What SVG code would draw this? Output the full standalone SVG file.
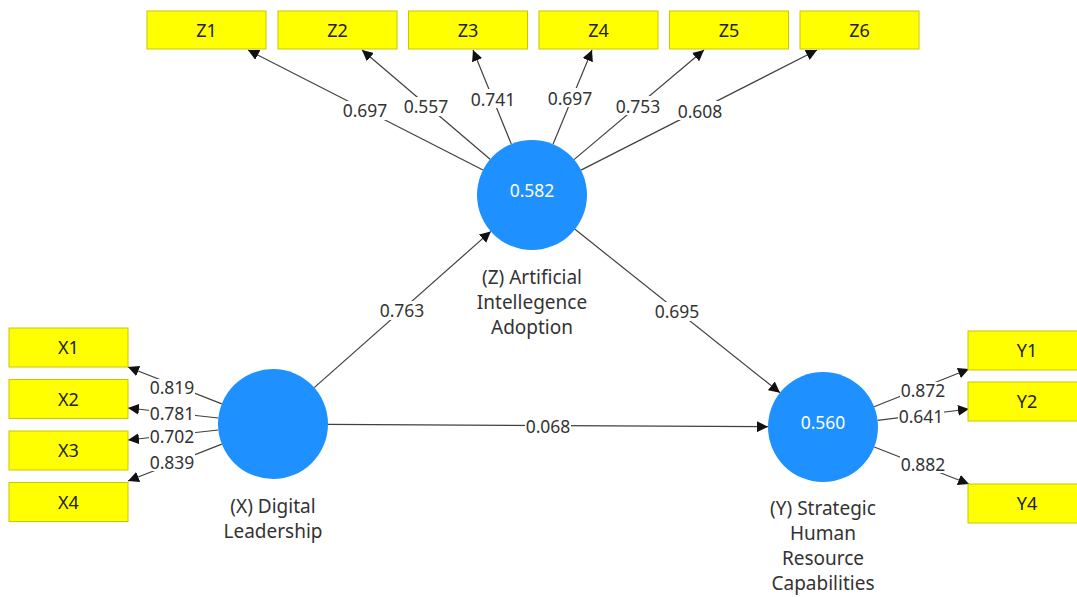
<svg xmlns="http://www.w3.org/2000/svg" width="1077" height="597" viewBox="0 0 1077 597">
  <style>
    .ind rect { fill: #FFFF00; stroke: #C8C800; stroke-width: 1; }
    .ind text { font-family: "Noto Sans", "Open Sans", sans-serif; font-size: 18px; fill: #222; text-anchor: middle; }
    .lat circle { fill: #1E90FF; }
    .lat .val { font-family: "Noto Sans", "Open Sans", sans-serif; font-size: 17.5px; fill: #ffffff; text-anchor: middle; }
    .lat .name { font-family: "Noto Sans", "Open Sans", sans-serif; font-size: 19px; fill: #333; text-anchor: middle; }
    .edges line { stroke: #404040; stroke-width: 1.2; marker-end: url(#arrow); }
    .lbl rect { fill: #ffffff; }
    .lbl text { font-family: "Noto Sans", "Open Sans", sans-serif; font-size: 17.5px; fill: #333; text-anchor: middle; }
  </style>
  <defs>
    <marker id="arrow" viewBox="0 0 10 10" refX="10" refY="5" markerWidth="11" markerHeight="11" markerUnits="userSpaceOnUse" orient="auto">
      <path d="M0,0 L10,5 L0,10 z" fill="#111"/>
    </marker>
  </defs>
  <rect width="1077" height="597" fill="#ffffff"/>

  <!-- connectors -->
  <g id="connectors" class="edges">
    <!-- Z loadings -->
    <line x1="483.0" y1="170.0" x2="248" y2="50"/>
    <line x1="490.1" y1="159.3" x2="362" y2="50"/>
    <line x1="511.3" y1="144.0" x2="473" y2="50"/>
    <line x1="553.0" y1="144.2" x2="592" y2="50"/>
    <line x1="574.0" y1="159.6" x2="704" y2="50"/>
    <line x1="581.0" y1="170.1" x2="817" y2="50"/>
    <!-- X loadings -->
    <line x1="221.8" y1="403.9" x2="128" y2="367"/>
    <line x1="218.3" y1="418.0" x2="128" y2="408"/>
    <line x1="218.3" y1="430.0" x2="128" y2="440"/>
    <line x1="221.8" y1="444.1" x2="128" y2="481"/>
    <!-- Y loadings -->
    <line x1="874.1" y1="406.7" x2="969" y2="369"/>
    <line x1="877.6" y1="420.3" x2="969" y2="409"/>
    <line x1="874.2" y1="447.0" x2="969" y2="484"/>
    <!-- structural paths -->
    <line x1="314.2" y1="387.6" x2="490.8" y2="231.4"/>
    <line x1="575.0" y1="229.3" x2="780.0" y2="392.7"/>
    <line x1="328.0" y1="424.3" x2="768.0" y2="426.7"/>
  </g>

  <!-- coefficient labels -->
  <g id="labels" class="lbl">
    <rect x="342" y="101" width="46" height="19"/><text x="365" y="117">0.697</text>
    <rect x="403" y="97" width="46" height="19"/><text x="426" y="113">0.557</text>
    <rect x="470" y="89" width="46" height="19"/><text x="493" y="106">0.741</text>
    <rect x="547" y="88" width="46" height="19"/><text x="570" y="105">0.697</text>
    <rect x="615" y="96" width="46" height="19"/><text x="638" y="113">0.753</text>
    <rect x="677" y="101" width="46" height="19"/><text x="700" y="118">0.608</text>

    <rect x="149" y="379" width="46" height="17"/><text x="172" y="394">0.819</text>
    <rect x="149" y="405" width="46" height="17"/><text x="172" y="420">0.781</text>
    <rect x="149" y="428" width="46" height="17"/><text x="172" y="443">0.702</text>
    <rect x="149" y="454" width="46" height="17"/><text x="172" y="469">0.839</text>

    <rect x="900" y="382" width="46" height="17"/><text x="923" y="397">0.872</text>
    <rect x="898" y="408" width="46" height="17"/><text x="921" y="423">0.641</text>
    <rect x="900" y="456" width="46" height="17"/><text x="923" y="471">0.882</text>

    <rect x="379" y="301" width="46" height="19"/><text x="402" y="317">0.763</text>
    <rect x="654" y="302" width="46" height="19"/><text x="677" y="318">0.695</text>
    <rect x="525" y="417" width="46" height="19"/><text x="548" y="433">0.068</text>
  </g>

  <!-- indicators -->
  <g id="Z1" class="ind"><rect x="147" y="11" width="119" height="38"/><text x="206.5" y="37">Z1</text></g>
  <g id="Z2" class="ind"><rect x="278" y="11" width="119" height="38"/><text x="337.5" y="37">Z2</text></g>
  <g id="Z3" class="ind"><rect x="408.5" y="11" width="119" height="38"/><text x="468" y="37">Z3</text></g>
  <g id="Z4" class="ind"><rect x="539" y="11" width="119" height="38"/><text x="598.5" y="37">Z4</text></g>
  <g id="Z5" class="ind"><rect x="669.5" y="11" width="119" height="38"/><text x="729" y="37">Z5</text></g>
  <g id="Z6" class="ind"><rect x="800" y="11" width="119" height="38"/><text x="859.5" y="37">Z6</text></g>

  <g id="X1" class="ind"><rect x="9" y="328" width="119" height="39"/><text x="68.5" y="354">X1</text></g>
  <g id="X2" class="ind"><rect x="9" y="379.5" width="119" height="39"/><text x="68.5" y="405.5">X2</text></g>
  <g id="X3" class="ind"><rect x="9" y="431" width="119" height="39"/><text x="68.5" y="457">X3</text></g>
  <g id="X4" class="ind"><rect x="9" y="482.5" width="119" height="39"/><text x="68.5" y="508.5">X4</text></g>

  <g id="Y1" class="ind"><rect x="968" y="331" width="119" height="39"/><text x="1027" y="357">Y1</text></g>
  <g id="Y2" class="ind"><rect x="968" y="382" width="119" height="39"/><text x="1027" y="408">Y2</text></g>
  <g id="Y4" class="ind"><rect x="968" y="484" width="119" height="39"/><text x="1027" y="510">Y4</text></g>

  <!-- latent variables -->
  <g id="Z" class="lat">
    <circle cx="532" cy="195" r="55"/>
    <text class="val" x="532" y="197">0.582</text>
    <text class="name" x="532" y="284">(Z) Artificial</text>
    <text class="name" x="532" y="309">Intellegence</text>
    <text class="name" x="532" y="334">Adoption</text>
  </g>
  <g id="X" class="lat">
    <circle cx="273" cy="424" r="55"/>
    <text class="name" x="273" y="513">(X) Digital</text>
    <text class="name" x="273" y="538">Leadership</text>
  </g>
  <g id="Y" class="lat">
    <circle cx="823" cy="427" r="55"/>
    <text class="val" x="823" y="429">0.560</text>
    <text class="name" x="823" y="515">(Y) Strategic</text>
    <text class="name" x="823" y="540">Human</text>
    <text class="name" x="823" y="565">Resource</text>
    <text class="name" x="823" y="590">Capabilities</text>
  </g>
</svg>
